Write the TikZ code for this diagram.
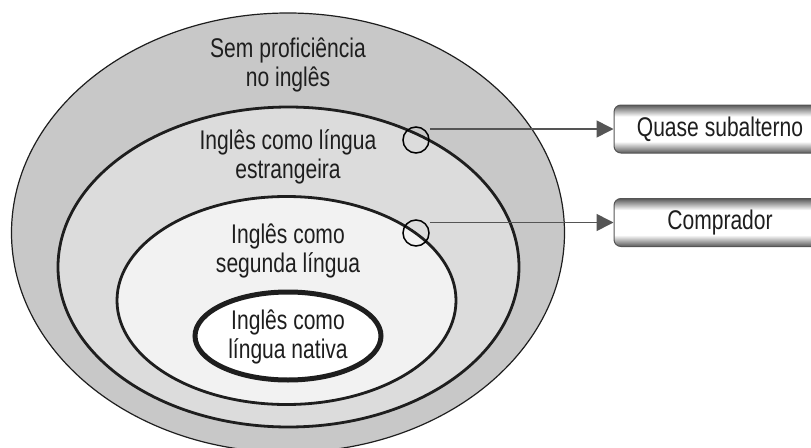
\documentclass[tikz,border=0pt]{standalone}
\usepackage{fontspec}
\setmainfont{Liberation Sans}[FakeStretch=0.78]
\usepackage{xcolor}
\usetikzlibrary{positioning, arrows.meta, calc}
\definecolor{ringouter}{HTML}{C8C8C8}
\definecolor{ringforeign}{HTML}{DCDCDC}
\definecolor{ringsecond}{HTML}{F2F2F2}
\definecolor{inkline}{HTML}{1E1E1E}
\definecolor{arrowgray}{HTML}{555555}
\pgfdeclareverticalshading{boxshade}{100bp}{%
  color(0bp)=(black!65); color(25bp)=(black!65); color(37bp)=(white);
  color(63bp)=(white); color(75bp)=(black!65); color(100bp)=(black!65)}

\begin{document}
\begin{tikzpicture}[x=1pt, y=-1pt,
    lbl/.style={align=center, text=inkline, font=\fontsize{27}{29}\selectfont},
    ring/.style={draw=inkline},
    marker/.style={circle, draw=black, line width=1.5pt, minimum size=26pt, inner sep=0pt},
    tagbox/.style={draw=arrowgray, line width=1pt, rounded corners=7pt, shading=boxshade,
                   minimum width=212pt, minimum height=48pt, text=inkline,
                   font=\fontsize{27}{29}\selectfont},
    link/.style={draw=arrowgray, line width=1.6pt, -{Triangle[length=17pt, width=17pt]}}]
    \useasboundingbox (0,0) rectangle (811,447);

    % nested rings
    \filldraw[ring, fill=ringouter, line width=1.2pt] (288,232.7) ellipse [x radius=276.5pt, y radius=219.7pt];
    \filldraw[ring, fill=ringforeign, line width=2.8pt] (288.5,267) ellipse [x radius=230.5pt, y radius=160pt];
    \filldraw[ring, fill=ringsecond, line width=2.8pt] (286.5,300.5) ellipse [x radius=169.5pt, y radius=104pt];
    \filldraw[ring, fill=white, line width=5pt] (288,336) ellipse [x radius=93pt, y radius=44pt];

    \node[lbl] (none) at (288,65) {Sem proficiência\\no inglês};
    \node[lbl] (efl) at (288,157) {Inglês como língua\\estrangeira};
    \node[lbl] (esl) at (288,251) {Inglês como\\segunda língua};
    \node[lbl] (enl) at (288,337) {Inglês como\\língua nativa};

    % markers and tags
    \node[marker] (mk1) at (416,140) {};
    \node[marker] (mk2) at (416,233) {};
    \node[tagbox] (quase) at (720,129) {Quase subalterno};
    \node[tagbox] (comp) at (720,222.5) {Comprador};

    \draw[link] (quase.west -| mk1.east) -- (quase.west);
    \draw[link] (comp.west -| mk2.east) -- (comp.west);
\end{tikzpicture}
\end{document}
